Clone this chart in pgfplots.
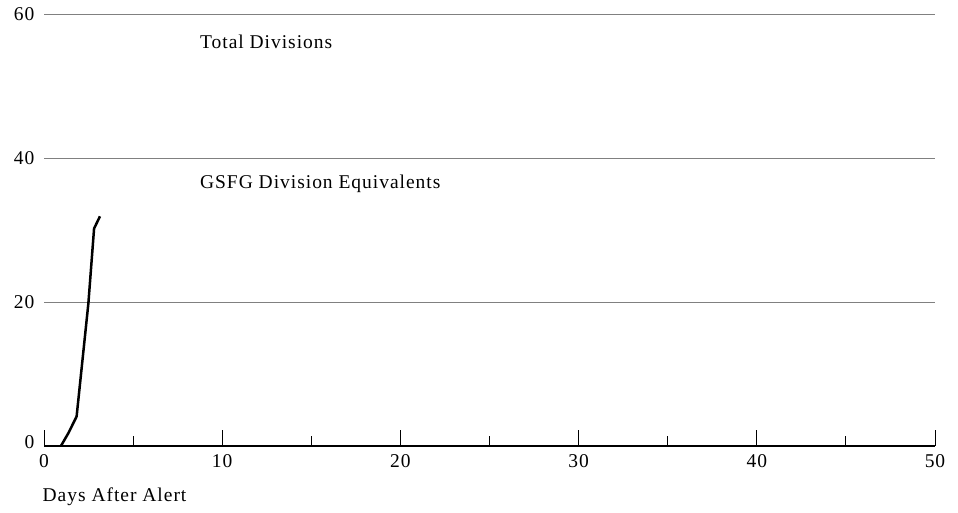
\documentclass[border=0pt]{standalone}
\usepackage{fontspec}
\setmainfont{Liberation Serif}[LetterSpace=5]
\usepackage{pgfplots}
\pgfplotsset{compat=1.18}

\begin{document}
\fontsize{19.5bp}{23bp}\selectfont
\begin{tikzpicture}
\begin{axis}[
    scale only axis,
    width=891bp, height=432bp,
    xmin=0, xmax=50, ymin=0, ymax=60,
    axis x line*=bottom, axis y line*=left,
    x axis line style={-, black, line width=1.2bp},
    y axis line style={draw=none},
    xtick={0,10,...,50},
    minor xtick={5,15,...,45},
    ytick={0,20,40,60},
    yticklabels={\raisebox{7bp}{0},20,40,60},
    ytick style={draw=none},
    xtick style={black, line width=0.9bp},
    tick align=inside,
    major tick length=16bp, minor tick length=10bp,
    ymajorgrids, grid style={gray, line width=0.8bp},
    /pgf/number format/assume math mode=true,
    ticklabel style={font=\fontsize{19.5bp}{23bp}\selectfont},
    yticklabel style={xshift=-3bp},
    xticklabel style={yshift=-2bp},
    xlabel={Days After Alert},
    xlabel style={at={(ticklabel cs:0)}, anchor=north west, xshift=-8bp, yshift=-7bp},
    clip=false,
]
\addplot[black, line width=2.5bp] coordinates {
    (0.95,0) (1.37,1.8) (1.83,4.1) (2.49,19.8) (2.81,30.2) (3.14,31.9)
};
\node[anchor=west, inner sep=0pt] at (axis cs:8.75,56.1) {Total Divisions};
\node[anchor=west, inner sep=0pt] at (axis cs:8.75,36.4) {GSFG Division Equivalents};
\end{axis}
\path (-44bp,-61bp) rectangle (914bp,446bp);
\end{tikzpicture}
\end{document}
